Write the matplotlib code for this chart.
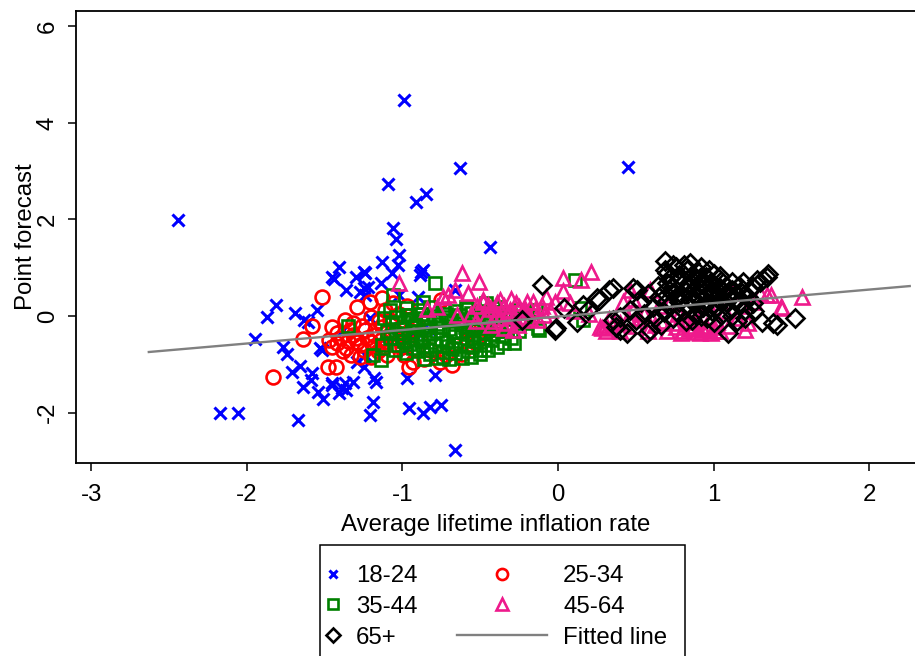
import matplotlib
matplotlib.use("Agg")
import matplotlib.pyplot as plt
from matplotlib.patches import Rectangle

plt.rcParams["font.family"] = ["Liberation Sans", "DejaVu Sans"]
plt.rcParams["axes.unicode_minus"] = False

FONT_PX = 24
FS = FONT_PX * 0.72

# ---- data (x = avg lifetime inflation, y = point forecast)
AGE_18_24 = [
    (-2.44, 1.99), (-2.17, -2.01), (-2.06, -2.01), (-1.67, -2.15), (-0.99, 4.47),
    (-0.63, 3.06), (0.45, 3.08), (-1.09, 2.73), (-0.91, 2.36), (-0.85, 2.53),
    (-1.06, 1.82), (-1.04, 1.59), (-0.44, 1.43), (-1.02, 1.26), (-1.13, 1.12),
    (-1.03, 1.06), (-1.41, 1.01), (-1.24, 0.89), (-1.07, 0.89), (-0.87, 0.95),
    (-0.89, 0.85), (-1.45, 0.81), (-1.30, 0.81), (-1.14, 0.68), (-1.36, 0.54),
    (-1.27, 0.50), (-1.24, 0.43), (-1.22, 0.60), (-0.90, 0.39), (-1.02, 0.43),
    (-1.55, 0.12), (-1.61, -0.12), (-1.21, -0.04), (-1.53, -0.66), (-1.24, -0.81),
    (-1.81, 0.23), (-1.87, -0.02), (-1.69, 0.06), (-1.95, -0.48), (-1.77, -0.64),
    (-1.74, -0.79), (-1.66, -1.04), (-1.71, -1.16), (-1.58, -1.18), (-1.59, -1.33),
    (-1.64, -1.47), (-1.54, -1.57), (-1.51, -1.72), (-0.66, -2.77), (-1.21, -2.05),
    (-1.19, -1.78), (-0.96, -1.90), (-0.87, -2.01), (-0.82, -1.88), (-0.75, -1.84),
    (-1.18, -1.28), (-1.17, -1.37), (-0.97, -1.28), (-0.79, -1.22), (-1.45, -1.43),
    (-1.39, -1.49), (-1.37, -1.39), (-1.32, -1.37), (-1.41, -1.59), (-1.45, -1.39),
    (-1.36, -1.53), (-1.29, -0.95), (-1.25, -1.06), (-1.52, -0.70), (-1.44, 0.77),
    (-1.25, 0.91), (-1.25, 0.58), (-1.63, -0.08), (-0.82, -0.29), (-0.98, -0.70),
    (-0.76, 0.12), (-1.05, -0.39), (-0.66, 0.54), (-0.88, 0.91), (-1.38, -0.28),
    (-1.15, -0.55), (-0.93, -0.35),
]

AGE_25_34 = [
    (-1.52, 0.39), (-1.58, -0.21), (-1.64, -0.48), (-1.83, -1.26), (-1.48, -1.06),
    (-1.43, -1.06), (-1.29, 0.19), (-1.21, 0.29), (-1.13, 0.37), (-1.20, -0.02),
    (-1.34, -0.29), (-1.40, -0.46), (-1.45, -0.64), (-1.36, -0.66), (-1.29, -0.54),
    (-1.25, -0.70), (-1.20, -0.54), (-1.13, -0.23), (-1.27, -0.85), (-1.20, -0.85),
    (-1.12, -0.64), (-1.02, -0.50), (-0.96, -1.06), (-0.93, -0.95), (-0.76, -0.95),
    (-0.68, -1.01), (-1.06, 0.27), (-0.75, 0.33), (-1.32, -0.39), (-1.24, -0.29),
    (-1.08, -0.08), (-1.05, -0.60), (-0.95, -0.29), (-0.89, -0.50), (-1.37, -0.08),
    (-1.47, -0.50), (-1.18, -0.39), (-0.82, -0.70), (-0.66, -0.60), (-0.57, -0.29),
    (-1.11, 0.12), (-1.27, -0.60), (-1.16, -0.72), (-1.09, -0.42), (-1.30, -0.45),
    (-0.99, -0.80), (-0.86, -0.88), (-1.42, -0.35), (-1.15, -0.10), (-1.02, 0.05),
    (-1.35, -0.52), (-0.91, -0.15), (-0.97, 0.20), (-0.72, -0.80), (-0.62, -0.78),
    (-0.53, -0.55), (-0.45, -0.30), (-1.42, -0.55), (-1.38, -0.72), (-1.33, -0.80),
    (-1.23, -0.45), (-1.18, -0.62), (-1.10, -0.80), (-1.05, -0.30), (-1.32, -0.15),
    (-1.45, -0.22), (-1.26, -0.20), (-1.14, -0.50), (-1.00, -0.65),
]

AGE_35_44 = [
    (-0.79, 0.68), (-1.06, 0.43), (-1.35, -0.21), (-1.14, -0.91), (-1.19, -0.81),
    (-1.08, 0.12), (-0.87, 0.29), (-0.97, 0.02), (-0.28, -0.56), (-0.12, -0.29),
    (0.11, 0.75), (0.16, -0.08), (-0.37, 0.19), (-0.46, 0.27), (-0.59, 0.19),
    (-0.14, 0.12), (-0.13, -0.25), (0.14, 0.17), (-0.48, -0.45), (-0.44, -0.13),
    (-0.98, 0.16), (-0.90, 0.12), (-0.82, 0.18), (-0.73, 0.14), (-0.66, 0.10),
    (-0.58, 0.15), (-0.50, 0.11), (-0.42, 0.16), (-0.35, 0.08), (-0.27, 0.13),
    (-0.20, 0.06), (-1.04, -0.02), (-0.95, 0.03), (-0.87, -0.04), (-0.80, 0.01),
    (-0.71, -0.03), (-0.63, 0.02), (-0.55, -0.05), (-0.47, 0.00), (-0.39, -0.03),
    (-0.31, 0.02), (-0.23, -0.04), (-1.07, -0.16), (-0.99, -0.12), (-0.92, -0.18),
    (-0.84, -0.13), (-0.77, -0.17), (-0.69, -0.11), (-0.61, -0.16), (-0.53, -0.13),
    (-0.45, -0.18), (-0.37, -0.12), (-0.30, -0.17), (-1.10, -0.30), (-1.01, -0.27),
    (-0.94, -0.33), (-0.86, -0.28), (-0.78, -0.32), (-0.70, -0.26), (-0.62, -0.31),
    (-0.55, -0.28), (-0.47, -0.34), (-0.40, -0.29), (-0.33, -0.31), (-1.08, -0.46),
    (-1.00, -0.43), (-0.91, -0.48), (-0.83, -0.44), (-0.75, -0.47), (-0.67, -0.42),
    (-0.59, -0.46), (-0.51, -0.44), (-0.43, -0.49), (-0.36, -0.42), (-1.03, -0.61),
    (-0.95, -0.58), (-0.87, -0.63), (-0.79, -0.59), (-0.71, -0.62), (-0.63, -0.57),
    (-0.55, -0.64), (-0.47, -0.60), (-0.39, -0.65), (-0.98, -0.76), (-0.90, -0.73),
    (-0.82, -0.78), (-0.74, -0.74), (-0.66, -0.77), (-0.58, -0.72), (-0.50, -0.79),
    (-0.86, -0.88), (-0.78, -0.86), (-0.70, -0.90), (-0.62, -0.87),
    (-0.94, -0.06), (-0.76, -0.22), (-0.58, -0.38), (-0.88, -0.52), (-0.68, -0.68),
    (-0.52, -0.24), (-0.82, -0.38), (-0.64, -0.08), (-0.42, -0.38), (-0.96, -0.40),
    (-1.05, -0.70), (-0.93, -0.67), (-0.84, -0.70), (-0.74, -0.84), (-0.56, -0.84),
    (-0.45, -0.70), (-0.35, -0.55), (-0.30, -0.45), (-0.25, -0.30), (-0.22, -0.15),
    (-0.17, 0.00), (-1.12, -0.05), (-1.13, -0.60), (-0.88, 0.05), (-0.72, 0.05),
    (-0.56, 0.06), (-0.40, 0.08), (-0.75, -0.08), (-0.60, -0.22), (-0.45, -0.06),
    (-0.92, -0.22), (-1.04, -0.36), (-0.72, -0.53), (-0.54, -0.52), (-0.38, -0.21),
    (-0.99, -0.52), (-0.82, -0.22), (-0.66, -0.34), (-0.50, -0.70), (-0.30, -0.05),
]

AGE_45_64 = [
    (-1.02, 0.68), (-0.62, 0.89), (-0.51, 0.70), (-0.66, 0.54), (-0.58, 0.48),
    (-0.71, 0.43), (-0.74, 0.39), (-0.48, 0.33), (-0.78, 0.18), (-0.84, 0.14),
    (-0.65, 0.02), (-0.46, 0.00), (-0.53, -0.10), (-0.43, -0.19), (-0.37, 0.33),
    (-0.48, 0.29), (-0.31, 0.12), (-0.25, 0.19), (-0.20, 0.29), (-0.33, -0.15),
    (-0.29, -0.29), (-0.26, -0.19), (-0.40, 0.05), (-0.35, 0.20), (-0.28, 0.00),
    (-0.22, 0.08), (-0.43, 0.15), (-0.18, -0.05), (-0.10, 0.20), (-0.08, 0.39),
    (-0.09, 0.02), (-0.37, -0.05), (-0.30, 0.35), (-0.15, 0.13), (0.03, 0.79),
    (0.15, 0.75), (0.21, 0.91), (0.03, 0.52), (0.08, 0.27), (0.10, 0.10),
    (0.20, 0.05), (0.27, -0.23), (0.28, -0.25), (0.40, -0.14), (0.46, 0.54),
    (0.48, 0.12), (0.33, -0.06), (0.31, -0.30), (0.36, -0.12), (0.50, -0.20),
    (0.52, -0.05), (0.58, -0.30), (0.55, 0.05), (0.59, 0.54), (0.48, 0.35),
    (0.62, -0.18), (0.65, 0.20), (0.42, 0.28), (0.76, -0.23), (0.80, -0.32),
    (0.84, -0.27), (0.85, -0.20), (0.89, -0.33), (0.93, -0.29), (0.95, -0.20),
    (0.98, -0.35), (1.00, -0.23), (1.04, -0.30), (0.82, -0.12), (0.90, -0.10),
    (1.02, -0.12), (0.78, 0.05), (0.88, 0.15), (0.96, 0.30), (1.07, 0.10),
    (0.72, 0.30), (1.12, 0.48), (1.18, 0.20), (1.20, -0.29), (1.22, -0.14),
    (1.30, 0.48), (1.34, 0.43), (1.37, 0.43), (1.43, 0.19), (1.44, 0.17),
    (1.57, 0.39), (1.26, 0.30), (1.10, -0.20), (1.15, -0.05),
    (-0.45, 0.22), (-0.39, 0.26), (-0.33, 0.05), (-0.27, 0.26), (-0.24, -0.08),
    (-0.21, 0.15), (-0.16, 0.30), (-0.13, -0.08), (-0.05, 0.12), (-0.02, 0.30),
    (-0.41, -0.10), (-0.35, -0.25), (-0.52, 0.20), (-0.56, 0.05), (0.79, -0.35),
    (0.87, -0.25), (0.91, -0.36), (0.96, -0.27), (1.01, -0.32), (0.74, -0.15),
    (0.70, -0.30), (0.66, -0.10), (0.31, -0.18), (0.40, -0.30), (0.45, -0.05),
]

AGE_65_PLUS = [
    (-0.10, 0.64), (-0.23, -0.08), (-0.01, -0.25), (0.04, 0.17), (0.12, -0.12),
    (0.19, 0.12), (0.26, 0.33), (0.35, 0.58), (0.37, -0.23), (0.44, -0.35),
    (-0.02, -0.29), (0.16, 0.23), (0.25, 0.37), (0.33, 0.54), (0.35, -0.08),
    (0.40, -0.29), (0.48, 0.58), (0.46, 0.12), (0.50, -0.08), (0.57, -0.35),
    (0.61, 0.19), (0.55, 0.05), (0.69, 1.14), (0.70, 0.89), (0.76, 1.01),
    (0.85, 1.10), (0.87, 0.85), (0.80, 0.68), (0.91, 0.68), (0.98, 0.48),
    (1.12, 0.54), (1.23, 0.54), (1.30, 0.70), (1.34, 0.81), (1.28, 0.75),
    (1.25, 0.60), (1.18, 0.48), (1.52, -0.04), (1.38, -0.14), (1.09, -0.35),
    (1.25, 0.27), (0.96, -0.04), (0.80, 0.12), (0.76, 0.40), (0.65, 0.40),
    (1.02, 0.19), (1.41, -0.19), (1.20, -0.04), (0.72, 0.78), (0.78, 0.85),
    (0.83, 0.95), (0.90, 0.92), (0.95, 0.80), (1.00, 0.88), (1.05, 0.72),
    (0.74, 0.60), (0.82, 0.52), (0.88, 0.58), (0.94, 0.65), (1.00, 0.60),
    (1.06, 0.50), (1.12, 0.70), (1.16, 0.62), (0.71, 0.20), (0.78, 0.28),
    (0.85, 0.35), (0.90, 0.42), (0.96, 0.30), (1.02, 0.40), (1.08, 0.30),
    (1.14, 0.35), (1.20, 0.12), (0.74, -0.05), (0.82, -0.10), (0.88, 0.05),
    (0.93, 0.18), (1.05, 0.02), (1.10, 0.15), (1.15, -0.10), (0.68, 0.08),
    (0.66, -0.18), (0.86, 0.75), (0.99, 0.10), (0.79, 0.45), (1.22, 0.40),
    (0.51, 0.54), (0.40, -0.02), (0.59, -0.29),
    (0.69, 0.95), (0.74, 1.05), (0.81, 1.05), (0.92, 1.02), (0.97, 0.95),
    (1.04, 0.82), (0.70, 0.68), (0.77, 0.72), (0.84, 0.62), (0.91, 0.78),
    (0.98, 0.70), (1.08, 0.62), (1.19, 0.70), (0.68, 0.50), (0.73, 0.48),
    (0.86, 0.48), (0.94, 0.52), (1.04, 0.58), (1.10, 0.42), (1.17, 0.28),
    (0.70, 0.32), (0.82, 0.22), (0.88, 0.28), (0.99, 0.22), (1.05, 0.28),
    (0.76, 0.10), (0.86, -0.08), (0.92, 0.00), (1.00, -0.12), (1.12, 0.00),
    (0.62, -0.05), (0.53, 0.30), (0.58, 0.45), (0.64, 0.62), (1.26, 0.10),
    (1.31, -0.12), (1.35, 0.86), (1.32, 0.76),
]

FIT_X = [-2.63, 2.26]
FIT_Y = [-0.745, 0.62]

X_TICKS = [-3, -2, -1, 0, 1, 2]
Y_TICKS = [-2, 0, 2, 4, 6]

SERIES = [
    ("18-24", AGE_18_24, "x", "#0000ff", 8.0, 2.2),
    ("25-34", AGE_25_34, "o", "#ff0000", 10.0, 1.9),
    ("35-44", AGE_35_44, "s", "#008000", 9.0, 1.9),
    ("45-64", AGE_45_64, "^", "#ee1a8c", 10.5, 1.9),
    ("65+", AGE_65_PLUS, "D", "#000000", 9.0, 1.9),
]

fig = plt.figure(figsize=(9.15, 6.56), dpi=100)
ax = fig.add_axes([76 / 915, 1 - 463 / 656, 1 - 76 / 915, (463 - 11) / 656])

handles = {}
for label, pts, marker, color, size, mew in SERIES:
    xs = [p[0] for p in pts]
    ys = [p[1] for p in pts]
    (h,) = ax.plot(xs, ys, linestyle="none", marker=marker, markersize=size,
                   markerfacecolor="none", markeredgecolor=color,
                   markeredgewidth=mew, label=label)
    handles[label] = h
(fit_line,) = ax.plot(FIT_X, FIT_Y, color="#808080", linewidth=1.7, zorder=5,
                      label="Fitted line")

ax.set_xlim(-3.098, 2.294)
ax.set_ylim(-3.043, 6.315)
ax.set_xticks(X_TICKS)
ax.set_yticks(Y_TICKS)
ax.spines["right"].set_visible(False)
for s in ("left", "bottom", "top"):
    ax.spines[s].set_linewidth(1.3)
ax.tick_params(direction="out", length=6, width=1.1, labelsize=FS)
ax.tick_params(axis="x", pad=9)
ax.tick_params(axis="y", pad=6.5, labelrotation=90)
for lbl in ax.get_yticklabels():
    lbl.set_va("center")
ax.set_xlabel("Average lifetime inflation rate", fontsize=FS, labelpad=6)
ax.set_ylabel("Point forecast", fontsize=FS, labelpad=0)

# legend frame (bottom edge falls below the figure, as in the source)
fig.add_artist(Rectangle((320 / 915, -10 / 656), (685 - 320) / 915,
                         (666 - 545) / 656, transform=fig.transFigure,
                         fill=False, edgecolor="black", linewidth=1.1))

leg_kw = dict(loc="upper left", frameon=False, fontsize=FS, labelspacing=0.37,
              borderpad=0, borderaxespad=0, markerscale=0.8)
fig.legend([handles["18-24"], handles["35-44"], handles["65+"]],
           ["18-24", "35-44", "65+"],
           bbox_to_anchor=(321 / 915, 1 - 565 / 656),
           handlelength=1.0, handletextpad=0.45, **leg_kw)
fig.legend([handles["25-34"], handles["45-64"], fit_line],
           ["25-34", "45-64", "Fitted line"],
           bbox_to_anchor=(457 / 915, 1 - 565 / 656),
           handlelength=3.75, handletextpad=0.67, **leg_kw)

fig.savefig("out.png", dpi=100)
